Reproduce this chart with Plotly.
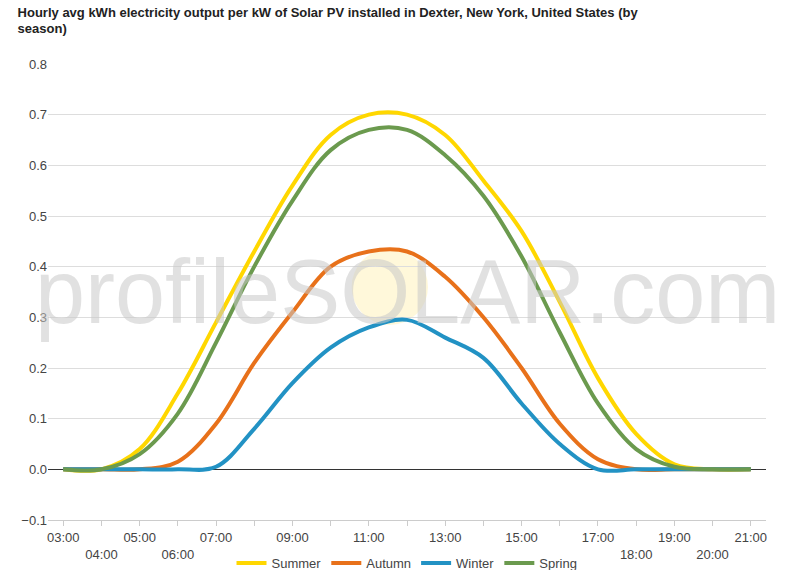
import plotly.graph_objects as go

hours = list(range(3, 22))
summer = [0, 0, 0.04, 0.15, 0.29, 0.43, 0.56, 0.66, 0.70, 0.70, 0.66, 0.57, 0.47, 0.33, 0.18, 0.07, 0.01, 0, 0]
autumn = [0, 0, 0, 0.015, 0.09, 0.21, 0.31, 0.40, 0.43, 0.43, 0.38, 0.30, 0.20, 0.09, 0.02, 0, 0, 0, 0]
winter = [0, 0, 0, 0, 0.005, 0.08, 0.17, 0.24, 0.28, 0.295, 0.26, 0.22, 0.13, 0.05, 0, 0, 0, 0, 0]
spring = [0, 0, 0.03, 0.11, 0.25, 0.40, 0.53, 0.63, 0.67, 0.67, 0.62, 0.54, 0.42, 0.27, 0.13, 0.04, 0.005, 0, 0]

tick_text = [f"{h:02d}:00" if i % 2 == 0 else f"<br>{h:02d}:00" for i, h in enumerate(hours)]

fig = go.Figure()
for name, vals, col in [("Summer", summer, "#FFD700"), ("Autumn", autumn, "#E8711A"),
                        ("Winter", winter, "#2292C4"), ("Spring", spring, "#6B9A4E")]:
    fig.add_trace(go.Scatter(x=hours, y=vals, name=name, mode="lines",
                             line=dict(color=col, width=4, shape="spline", smoothing=1)))

# watermark
fig.add_shape(type="circle", xref="x", yref="y", x0=10.55, x1=12.55, y0=0.285, y1=0.435,
              fillcolor="rgba(255,235,150,0.35)", line_width=0, layer="below")
fig.add_annotation(text="profileSOLAR.com", xref="paper", yref="paper", x=0.5, y=0.50,
                   showarrow=False, font=dict(size=90, color="rgba(200,200,200,0.55)", family="Arial"))

fig.update_layout(
    width=800, height=570, template="plotly_white",
    title=dict(text="<b>Hourly avg kWh electricity output per kW of Solar PV installed in Dexter, New York, United States (by<br>season)</b>",
               x=0.012, y=0.985, yanchor="top", font=dict(size=13, color="#222")),
    margin=dict(l=40, r=42, t=56, b=58, autoexpand=False),
    font=dict(family="Arial", size=13, color="#444"),
    legend=dict(orientation="h", x=0.5, xanchor="center", yref="container", y=0.0, yanchor="bottom",
                font=dict(size=13)),
    xaxis=dict(tickvals=hours, ticktext=tick_text, range=[2.6, 21.4], showgrid=False,
               showline=True, linecolor="#ccc", ticks="outside", tickcolor="#ccc"),
    yaxis=dict(range=[-0.1, 0.8], dtick=0.1, tickformat=".1f", gridcolor="#ddd",
               zeroline=True, zerolinecolor="#333", zerolinewidth=1),
)
fig.write_html("out.html")
